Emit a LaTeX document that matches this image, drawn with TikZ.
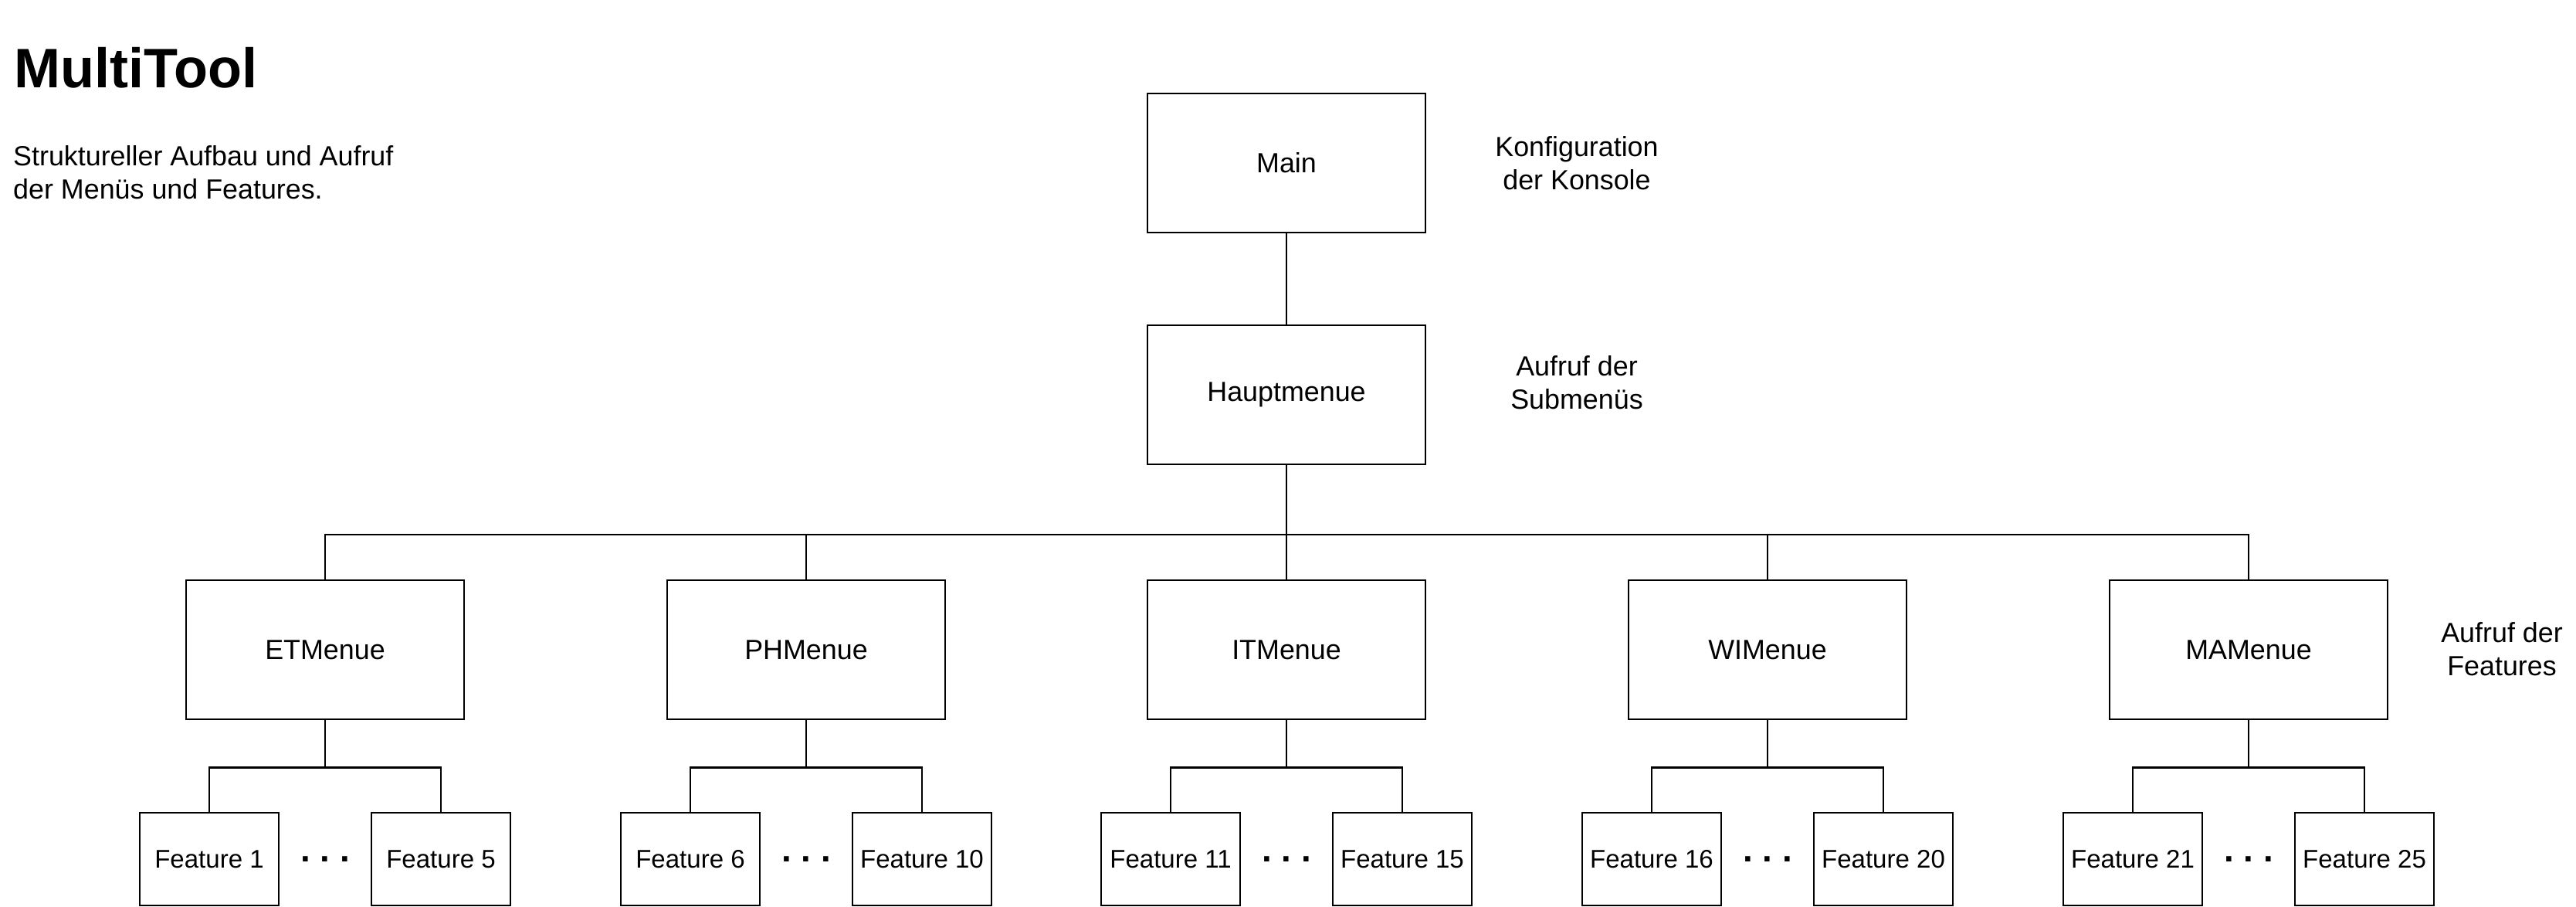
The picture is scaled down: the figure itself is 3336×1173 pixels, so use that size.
\documentclass[tikz,border=0pt]{standalone}
\usepackage{fontspec}
\setmainfont{Liberation Sans}
\frenchspacing

\begin{document}
\begin{tikzpicture}[x=0.1mm, y=-0.1mm, line width=0.7pt,
    menubox/.style={draw, line width=0.75pt, minimum width=3.6cm, minimum height=1.8cm,
        font=\fontsize{10.2}{12.2}\selectfont},
    featbox/.style={draw, line width=0.75pt, minimum width=1.8cm, minimum height=1.2cm,
        inner sep=1pt, font=\fontsize{9.4}{11}\selectfont},
    note/.style={align=center, inner sep=0pt, font=\fontsize{10.2}{12.2}\selectfont},
    dots/.style={anchor=base, inner sep=0pt, font=\bfseries\fontsize{13}{15}\selectfont}]

    \useasboundingbox (0,0) rectangle (3336,1173);

    % Title and description
    \node[anchor=base west, inner sep=0pt, font=\bfseries\fontsize{20.5}{24}\selectfont] (title) at (17,113) {MultiTool};
    \node[anchor=west, align=left, inner sep=0pt, font=\fontsize{10.2}{12.2}\selectfont] (desc) at (16,223)
        {Struktureller Aufbau und Aufruf\\der Menüs und Features.};

    % Main and main menu
    \node[menubox] (main) at (1666,211) {Main};
    \node[menubox] (haupt) at (1666,511) {Hauptmenue};
    \node[note] (konf) at (2042,211) {Konfiguration\\der Konsole};
    \node[note] (subm) at (2042,495) {Aufruf der\\Submenüs};
    \draw (main.south) -- (haupt.north);

    % Submenus
    \node[menubox] (et) at (421,841) {ETMenue};
    \node[menubox] (ph) at (1044,841) {PHMenue};
    \node[menubox] (it) at (1666,841) {ITMenue};
    \node[menubox] (wi) at (2289,841) {WIMenue};
    \node[menubox] (ma) at (2912,841) {MAMenue};
    \node[note] (feat) at (3240,840) {Aufruf der\\Features};

    % Bus from main menu
    \coordinate (bus) at (1666,692);
    \draw (haupt.south) |- (bus -| et.north) -- (et.north);
    \draw (haupt.south) |- (bus -| ph.north) -- (ph.north);
    \draw (haupt.south) -- (it.north);
    \draw (haupt.south) |- (bus -| wi.north) -- (wi.north);
    \draw (haupt.south) |- (bus -| ma.north) -- (ma.north);

    % Features
    \node[featbox] (f1) at (271,1112) {Feature 1};
    \node[featbox] (f5) at (571,1112) {Feature 5};
    \node[featbox] (f6) at (894,1112) {Feature 6};
    \node[featbox] (f10) at (1194,1112) {Feature 10};
    \node[featbox] (f11) at (1516,1112) {Feature 11};
    \node[featbox] (f15) at (1816,1112) {Feature 15};
    \node[featbox] (f16) at (2139,1112) {Feature 16};
    \node[featbox] (f20) at (2439,1112) {Feature 20};
    \node[featbox] (f21) at (2762,1112) {Feature 21};
    \node[featbox] (f25) at (3062,1112) {Feature 25};

    \node[dots] (d1) at (421,1115) {. . .};
    \node[dots] (d2) at (1044,1115) {. . .};
    \node[dots] (d3) at (1666,1115) {. . .};
    \node[dots] (d4) at (2289,1115) {. . .};
    \node[dots] (d5) at (2912,1115) {. . .};

    \draw (et.south) -- ++(0,61) -| (f1.north);
    \draw (et.south) -- ++(0,61) -| (f5.north);
    \draw (ph.south) -- ++(0,61) -| (f6.north);
    \draw (ph.south) -- ++(0,61) -| (f10.north);
    \draw (it.south) -- ++(0,61) -| (f11.north);
    \draw (it.south) -- ++(0,61) -| (f15.north);
    \draw (wi.south) -- ++(0,61) -| (f16.north);
    \draw (wi.south) -- ++(0,61) -| (f20.north);
    \draw (ma.south) -- ++(0,61) -| (f21.north);
    \draw (ma.south) -- ++(0,61) -| (f25.north);
\end{tikzpicture}
\end{document}
